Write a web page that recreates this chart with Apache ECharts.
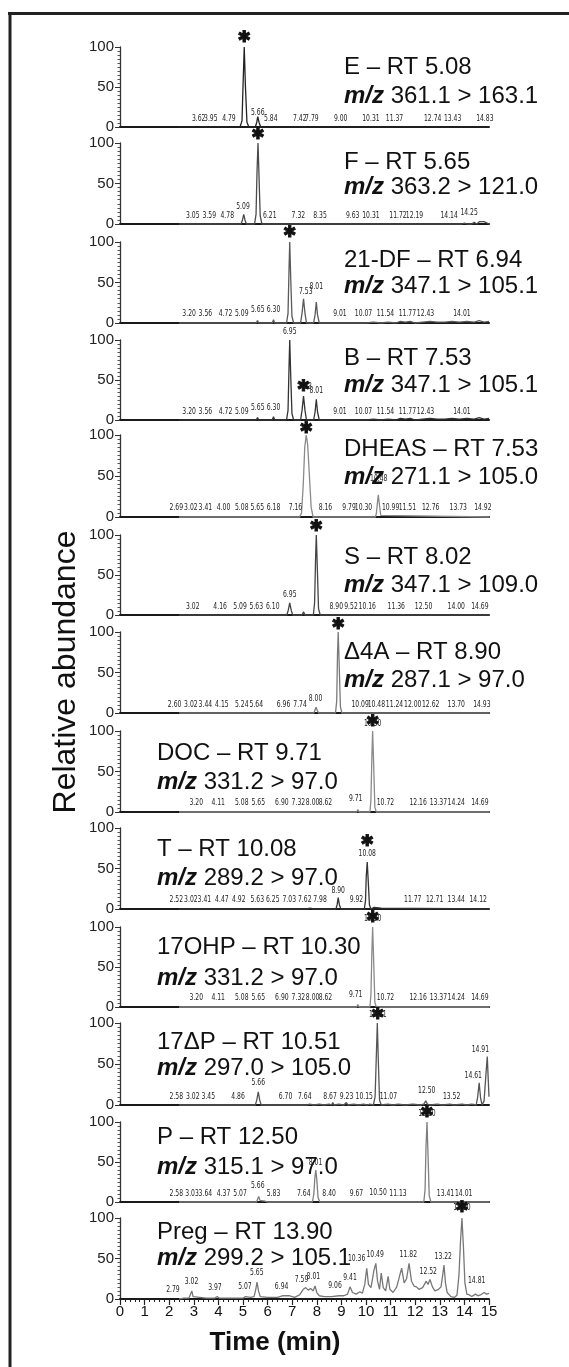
<!DOCTYPE html>
<html><head><meta charset="utf-8">
<script src="https://cdn.jsdelivr.net/npm/echarts@6/dist/echarts.min.js"></script>
<style>html,body{margin:0;padding:0;background:#fff}#c{width:569px;height:1367px}</style>
</head><body><div id="c"></div>
<script>
// ---------- DATA ----------
const compounds = ['E','F','21-DF','B','DHEAS','S','\u03944A','DOC','T','17OHP','17\u0394P','P','Preg'];
const retentionTimes = ['5.08','5.65','6.94','7.53','7.53','8.02','8.90','9.71','10.08','10.30','10.51','12.50','13.90'];
const transitions = ['361.1 > 163.1','363.2 > 121.0','347.1 > 105.1','347.1 > 105.1','271.1 > 105.0','347.1 > 109.0','287.1 > 97.0','331.2 > 97.0','289.2 > 97.0','331.2 > 97.0','297.0 > 105.0','315.1 > 97.0','299.2 > 105.1'];
const xTicks = [0,15];
const yTicks = [0,50,100];

const traceE = [[2.4,0],[4.88,0],[4.96,8],[5.0,50],[5.05,100],[5.1,50],[5.16,6],[5.24,0],[5.5,0],[5.56,6],[5.6,13],[5.65,6],[5.72,0],[15,0]];
const traceF = [[2.4,0],[4.92,0],[4.98,5],[5.03,12],[5.08,5],[5.14,0],[5.47,0],[5.53,12],[5.57,65],[5.61,100],[5.65,60],[5.7,10],[5.77,0],[13.9,0],[14.0,1],[14.1,0],[14.3,0],[14.4,2],[14.5,0],[14.62,3],[14.7,1],[14.8,3],[14.88,1],[15,0]];
const trace21DF = [[2.4,0],[5.54,0],[5.59,3],[5.64,0],[6.19,0],[6.24,4],[6.29,0],[6.77,0],[6.83,12],[6.87,65],[6.9,100],[6.94,55],[6.99,8],[7.06,0],[7.34,0],[7.4,12],[7.46,30],[7.52,12],[7.58,0],[7.87,0],[7.93,10],[7.98,26],[8.03,10],[8.1,0],[8.9,0],[8.94,1],[9.0,0],[10.0,0],[10.3,1],[10.6,0],[10.9,1],[11.2,0],[11.4,2],[11.6,1],[11.8,2],[12.0,0],[12.3,1],[12.6,2],[12.9,1],[13.2,1],[13.5,2],[13.8,1],[14.1,2],[14.4,1],[14.6,3],[14.8,1],[15,2]];
const traceB = [[2.4,0],[5.54,0],[5.59,3],[5.64,0],[6.19,0],[6.24,4],[6.29,0],[6.77,0],[6.83,12],[6.87,65],[6.9,100],[6.94,55],[6.99,8],[7.06,0],[7.34,0],[7.4,12],[7.46,30],[7.52,12],[7.58,0],[7.87,0],[7.93,10],[7.98,26],[8.03,10],[8.1,0],[8.9,0],[8.94,1],[9.0,0],[10.0,0],[10.3,1],[10.6,0],[10.9,1],[11.2,0],[11.4,2],[11.6,1],[11.8,2],[12.0,0],[12.3,1],[12.6,2],[12.9,1],[13.2,1],[13.5,2],[13.8,1],[14.1,2],[14.4,1],[14.6,3],[14.8,1],[15,2]];
const traceDHEAS = [[2.4,0],[7.3,0],[7.38,5],[7.45,40],[7.51,85],[7.57,100],[7.63,88],[7.7,50],[7.77,12],[7.85,0],[10.38,0],[10.42,4],[10.46,16],[10.5,27],[10.55,14],[10.6,2],[10.66,0],[15,0]];
const traceS = [[2.4,0],[6.78,0],[6.84,6],[6.9,15],[6.96,6],[7.02,0],[7.4,0],[7.46,4],[7.52,0],[7.86,0],[7.91,15],[7.95,70],[7.98,100],[8.02,60],[8.07,8],[8.14,0],[15,0]];
const traceD4A = [[2.4,0],[7.88,0],[7.93,4],[7.97,7],[8.02,3],[8.08,0],[8.76,0],[8.81,15],[8.84,70],[8.87,100],[8.91,60],[8.96,8],[9.02,0],[15,0]];
const traceDOC = [[2.4,0],[5.58,0],[5.62,1],[5.66,0],[9.62,0],[9.67,3],[9.72,0],[10.16,0],[10.2,15],[10.24,70],[10.27,100],[10.31,60],[10.36,6],[10.42,0],[15,0]];
const traceT = [[2.4,0],[7.55,0],[7.62,2],[7.75,1],[7.85,0],[8.78,0],[8.83,6],[8.87,14],[8.92,5],[8.98,0],[9.93,0],[9.98,10],[10.01,40],[10.05,58],[10.09,35],[10.14,5],[10.2,0],[10.33,2],[10.4,0],[10.62,1],[10.7,0],[15,0]];
const trace17OHP = [[2.4,0],[5.58,0],[5.62,1],[5.66,0],[9.62,0],[9.67,3],[9.72,0],[10.16,0],[10.2,15],[10.24,70],[10.27,100],[10.31,60],[10.36,6],[10.42,0],[15,0]];
const trace17DP = [[2.4,0],[5.5,0],[5.56,6],[5.62,16],[5.68,6],[5.74,0],[7.6,0],[7.7,1],[7.9,0],[8.1,1],[8.3,0],[8.5,1],[8.6,0],[8.65,3],[8.7,0],[8.9,1],[9.1,0],[9.2,3],[9.27,0],[9.5,1],[9.7,0],[9.9,1],[10.05,0],[10.15,1],[10.3,0],[10.37,10],[10.42,60],[10.46,100],[10.5,55],[10.55,6],[10.62,0],[10.9,1],[11.1,0],[11.3,1],[11.6,0],[11.9,1],[12.2,0],[12.35,1],[12.43,5],[12.5,1],[12.6,0],[12.9,1],[13.1,0],[13.4,1],[13.6,0],[13.9,1],[14.1,0],[14.3,1],[14.48,0],[14.54,10],[14.6,27],[14.66,8],[14.72,0],[14.8,5],[14.87,35],[14.93,59],[14.97,30],[15,10]];
const traceP = [[2.4,0],[5.55,0],[5.6,4],[5.64,7],[5.69,2],[5.75,0],[5.9,1],[6.0,0],[7.82,0],[7.88,10],[7.92,30],[7.96,40],[8.0,28],[8.05,6],[8.12,0],[10.44,0],[10.48,2],[10.53,0],[12.35,0],[12.4,15],[12.44,70],[12.48,100],[12.52,60],[12.57,8],[12.64,0],[15,0]];
const tracePreg = [[2.4,0],[2.6,1],[2.8,1],[2.88,3],[2.92,10],[2.97,3],[3.05,1],[3.5,1],[3.85,1],[3.95,3],[4.05,1],[4.5,1],[5.0,1],[5.1,3],[5.3,2],[5.45,3],[5.52,12],[5.57,21],[5.63,10],[5.7,3],[6.0,2],[6.4,2],[6.6,4],[6.9,4],[7.1,2],[7.3,5],[7.45,12],[7.55,14],[7.65,11],[7.75,13],[7.85,10],[7.93,16],[8.0,8],[8.1,4],[8.3,3],[8.6,3],[8.9,4],[9.1,4],[9.25,6],[9.35,15],[9.45,8],[9.6,6],[9.75,9],[9.85,7],[9.95,18],[10.03,38],[10.1,18],[10.2,14],[10.25,22],[10.32,35],[10.4,44],[10.47,22],[10.55,12],[10.62,32],[10.7,14],[10.8,10],[10.9,28],[10.97,12],[11.1,8],[11.25,15],[11.38,30],[11.45,38],[11.55,20],[11.65,25],[11.75,44],[11.85,22],[11.95,16],[12.05,15],[12.15,12],[12.3,14],[12.45,22],[12.52,18],[12.6,24],[12.7,15],[12.8,10],[12.95,12],[13.05,15],[13.12,30],[13.17,42],[13.23,20],[13.3,8],[13.45,3],[13.6,2],[13.7,5],[13.78,30],[13.84,70],[13.9,100],[13.96,65],[14.02,20],[14.1,6],[14.2,5],[14.3,3],[14.45,6],[14.55,4],[14.65,5],[14.8,8],[14.9,6],[15,7]];

const labelsE = [[3.2,10,'3.62'],[3.69,10,'3.95'],[4.43,10,'4.79'],[5.6,18,'5.66'],[6.13,10,'5.84'],[7.31,10,'7.42'],[7.8,10,'7.79'],[8.97,10,'9.00'],[10.2,10,'10.31'],[11.16,10,'11.37'],[12.71,10,'12.74'],[13.52,10,'13.43'],[14.83,10,'14.83']];
const labelsF = [[2.96,10,'3.05'],[3.63,10,'3.59'],[4.36,10,'4.78'],[5.0,22,'5.09'],[6.09,10,'6.21'],[7.25,10,'7.32'],[8.13,10,'8.35'],[9.46,10,'9.63'],[10.2,10,'10.31'],[11.3,10,'11.72'],[11.97,10,'12.19'],[13.38,10,'14.14'],[14.19,14,'14.25']];
const labels21DF = [[2.81,11,'3.20'],[3.47,11,'3.56'],[4.29,11,'4.72'],[4.95,11,'5.09'],[5.6,16,'5.65'],[6.24,16,'6.30'],[7.55,39,'7.53'],[7.98,45,'8.01'],[8.94,11,'9.01'],[9.9,11,'10.07'],[10.79,11,'11.54'],[11.68,11,'11.77'],[12.42,11,'12.43'],[13.9,11,'14.01']];
const labelsB = [[2.81,11,'3.20'],[3.47,11,'3.56'],[4.29,11,'4.72'],[4.95,11,'5.09'],[5.6,15,'5.65'],[6.24,15,'6.30'],[6.9,111,'6.95'],[7.52,42,'7.53'],[7.98,37,'8.01'],[8.94,11,'9.01'],[9.9,11,'10.07'],[10.79,11,'11.54'],[11.68,11,'11.77'],[12.42,11,'12.43'],[13.9,11,'14.01']];
const labelsDHEAS = [[2.29,11,'2.69'],[2.88,11,'3.02'],[3.47,11,'3.41'],[4.21,11,'4.00'],[4.95,11,'5.08'],[5.58,11,'5.65'],[6.24,11,'6.18'],[7.13,11,'7.16'],[8.35,11,'8.16'],[9.31,11,'9.79'],[9.9,12,'10.30'],[10.52,47,'10.48'],[11.0,11,'10.99'],[11.68,11,'11.51'],[12.63,11,'12.76'],[13.75,11,'13.73'],[14.75,11,'14.92']];
const labelsS = [[2.96,10,'3.02'],[4.07,10,'4.16'],[4.88,10,'5.09'],[5.54,10,'5.63'],[6.21,10,'6.10'],[6.9,25,'6.95'],[8.79,10,'8.90'],[9.39,10,'9.52'],[10.05,10,'10.16'],[11.23,10,'11.36'],[12.34,10,'12.50'],[13.67,10,'14.00'],[14.63,10,'14.69']];
const labelsD4A = [[2.22,10,'2.60'],[2.88,10,'3.02'],[3.47,10,'3.44'],[4.14,10,'4.15'],[4.95,10,'5.24'],[5.54,10,'5.64'],[6.65,10,'6.96'],[7.32,10,'7.74'],[7.95,18,'8.00'],[9.76,10,'10.09'],[10.42,10,'10.48'],[11.16,10,'11.24'],[11.9,10,'12.00'],[12.63,10,'12.62'],[13.67,10,'13.70'],[14.71,10,'14.93']];
const labelsDOC = [[3.1,11,'3.20'],[3.99,11,'4.11'],[4.95,11,'5.08'],[5.62,11,'5.65'],[6.58,11,'6.90'],[7.25,11,'7.32'],[7.83,11,'8.00'],[8.35,11,'8.62'],[9.58,16,'9.71'],[10.27,109,'10.30'],[10.79,11,'10.72'],[12.12,11,'12.16'],[12.94,11,'13.37'],[13.67,11,'14.24'],[14.63,11,'14.69']];
const labelsT = [[2.29,11,'2.52'],[2.88,11,'3.02'],[3.43,11,'3.41'],[4.14,11,'4.47'],[4.83,11,'4.92'],[5.58,11,'5.63'],[6.21,11,'6.25'],[6.88,11,'7.03'],[7.51,11,'7.62'],[8.13,11,'7.98'],[8.87,23,'8.90'],[9.61,11,'9.92'],[10.05,68,'10.08'],[11.9,11,'11.77'],[12.79,11,'12.71'],[13.67,11,'13.44'],[14.56,11,'14.12']];
const labels17OHP = [[3.1,12,'3.20'],[3.99,12,'4.11'],[4.95,12,'5.08'],[5.62,12,'5.65'],[6.58,12,'6.90'],[7.25,12,'7.32'],[7.83,12,'8.00'],[8.35,12,'8.62'],[9.58,16,'9.71'],[10.27,111,'10.30'],[10.79,12,'10.72'],[12.12,12,'12.16'],[12.94,12,'13.37'],[13.67,12,'14.24'],[14.63,12,'14.69']];
const labels17DP = [[2.29,10,'2.58'],[2.96,10,'3.02'],[3.59,10,'3.45'],[4.8,10,'4.86'],[5.62,27,'5.66'],[6.73,10,'6.70'],[7.51,10,'7.64'],[8.54,10,'8.67'],[9.21,10,'9.23'],[9.93,10,'10.15'],[10.91,10,'11.07'],[10.48,110,'10.51'],[12.47,17,'12.50'],[13.48,10,'13.52'],[14.36,36,'14.61'],[14.65,68,'14.91']];
const labelsP = [[2.29,11,'2.58'],[2.93,11,'3.03'],[3.47,11,'3.64'],[4.21,11,'4.37'],[4.88,11,'5.07'],[5.6,21,'5.66'],[6.24,11,'5.83'],[7.47,11,'7.64'],[7.95,49,'8.01'],[8.5,11,'8.40'],[9.61,11,'9.67'],[10.49,12,'10.50'],[11.3,11,'11.13'],[12.48,110,'12.50'],[13.23,11,'13.41'],[13.97,11,'14.01']];
const labelsPreg = [[2.15,11,'2.79'],[2.91,21,'3.02'],[3.86,14,'3.97'],[5.08,15,'5.07'],[5.56,32,'5.65'],[6.57,15,'6.94'],[7.38,24,'7.59'],[7.86,28,'8.01'],[8.74,17,'9.06'],[9.35,26,'9.41'],[9.62,50,'10.36'],[10.37,55,'10.49'],[11.72,55,'11.82'],[12.53,34,'12.52'],[13.14,52,'13.22'],[13.9,113,'13.90'],[14.5,23,'14.81']];

const starE = [[5.05,112]];
const starF = [[5.61,110]];
const star21DF = [[6.9,111]];
const starB = [[7.46,42]];
const starDHEAS = [[7.57,107]];
const starS = [[7.98,110]];
const starD4A = [[8.87,109]];
const starDOC = [[10.27,111]];
const starT = [[10.05,83]];
const star17OHP = [[10.27,112]];
const star17DP = [[10.48,110]];
const starP = [[12.48,111]];
const starPreg = [[13.9,112]];

const traces = [traceE,traceF,trace21DF,traceB,traceDHEAS,traceS,traceD4A,traceDOC,traceT,trace17OHP,trace17DP,traceP,tracePreg];
const peakLabels = [labelsE,labelsF,labels21DF,labelsB,labelsDHEAS,labelsS,labelsD4A,labelsDOC,labelsT,labels17OHP,labels17DP,labelsP,labelsPreg];
const stars = [starE,starF,star21DF,starB,starDHEAS,starS,starD4A,starDOC,starT,star17OHP,star17DP,starP,starPreg];

// ---------- LAYOUT / STYLE ----------
const panelTop = [47,143,242,340,435,535,632,731,828,927,1023,1122,1218];
const panelBottom = [127,224,323,420,517,615,713,812,909,1007,1105,1202,1299];
const title1Y = [67,162,260,358,449,557,652,753,849,947,1042,1137,1232];
const title2Y = [96,187,286,385,477,585,680,782,878,978,1068,1167,1258];
const lineColors = ['#222','#4a4a4a','#5a5a5a','#333','#8a8a8a','#444','#7a7a7a','#8a8a8a','#333','#8a8a8a','#555','#7f7f7f','#777'];
const FONT = '"Liberation Sans", Arial, sans-serif';
const NARROW = '"Liberation Sans Narrow", "DejaVu Sans Condensed", sans-serif';

const chart = echarts.init(document.getElementById('c'), null, {renderer:'canvas'});
const grids = [], xAxes = [], yAxes = [], series = [], graphics = [];
const N = traces.length;
for (let i = 0; i < N; i++) {
  const last = i === N - 1;
  grids.push({left:120, right:80, top:panelTop[i], height:panelBottom[i]-panelTop[i], containLabel:false});
  xAxes.push({gridIndex:i, type:'value', min:xTicks[0], max:xTicks[1], interval:1,
    axisLine:{show:true, onZero:false, lineStyle:{color:'#1a1a1a', width:2}},
    axisTick:{show:last, length:6, lineStyle:{color:'#222', width:1.2}},
    minorTick:{show:last, splitNumber:5, length:3, lineStyle:{color:'#222', width:1}},
    axisLabel:{show:last, fontSize:15, color:'#111', margin:5, fontFamily:FONT},
    splitLine:{show:false}});
  yAxes.push({gridIndex:i, type:'value', min:yTicks[0], max:yTicks[2], interval:yTicks[1]-yTicks[0],
    axisLine:{show:true, lineStyle:{color:'#333', width:1.3}},
    axisTick:{show:true, length:5, lineStyle:{color:'#333', width:1}},
    minorTick:{show:true, splitNumber:10, length:2.5, lineStyle:{color:'#555', width:1}},
    axisLabel:{fontSize:15, color:'#222', margin:6, fontFamily:FONT},
    splitLine:{show:false}});
  series.push({type:'line', xAxisIndex:i, yAxisIndex:i, data:traces[i], symbol:'none', showSymbol:false,
    lineStyle:{color:lineColors[i], width:1.3}, clip:false, animation:false, z:3});
  const lab = peakLabels[i];
  series.push({type:'custom', xAxisIndex:i, yAxisIndex:i, clip:false, silent:true, animation:false, z:4,
    data: lab.map(d => [d[0], d[1]]),
    renderItem: (params, api) => {
      const p = api.coord([api.value(0), api.value(1)]);
      return {type:'text', x:p[0], y:p[1], scaleX:0.75,
        style:{text:lab[params.dataIndex][2], fontSize:9, fontFamily:NARROW, fill:'#222', align:'center', verticalAlign:'middle'}};
    }});
  series.push({type:'custom', xAxisIndex:i, yAxisIndex:i, clip:false, silent:true, animation:false, z:5,
    data: stars[i],
    renderItem: (params, api) => {
      const p = api.coord([api.value(0), api.value(1)]);
      return {type:'text', x:p[0], y:p[1],
        style:{text:'\u2731', fontSize:16, fontFamily:'"DejaVu Sans", sans-serif', fill:'#111', stroke:'#111', lineWidth:0.9, align:'center', verticalAlign:'middle'}};
    }});
  const tx = i < 7 ? 344 : 157;
  graphics.push({type:'text', x:tx, y:title1Y[i], z:10,
    style:{text:compounds[i] + ' \u2013 RT ' + retentionTimes[i], fontSize:24, fontFamily:FONT, fill:'#111', verticalAlign:'middle'}});
  graphics.push({type:'text', x:tx, y:title2Y[i], z:10,
    style:{text:'{m|m/z} ' + transitions[i], fontSize:24, fontFamily:FONT, fill:'#111', verticalAlign:'middle',
      rich:{m:{fontSize:24, fontFamily:FONT, fontStyle:'italic', fontWeight:'bold', fill:'#111'}}}});
}
graphics.push({type:'text', x:66, y:672, rotation:Math.PI/2,
  style:{text:'Relative abundance', fontSize:32, fontFamily:FONT, fill:'#111', align:'center', verticalAlign:'middle'}});
graphics.push({type:'text', x:275, y:1343,
  style:{text:'Time (min)', fontSize:26, fontWeight:'bold', fontFamily:FONT, fill:'#111', align:'center', verticalAlign:'middle'}});
graphics.push({type:'line', shape:{x1:8, y1:13.5, x2:569, y2:13.5}, style:{stroke:'#222', lineWidth:3}});
graphics.push({type:'line', shape:{x1:10, y1:12, x2:10, y2:1367}, style:{stroke:'#222', lineWidth:3}});

chart.setOption({animation:false, backgroundColor:'#fff', grid:grids, xAxis:xAxes, yAxis:yAxes, series:series, graphic:graphics});
</script></body></html>
